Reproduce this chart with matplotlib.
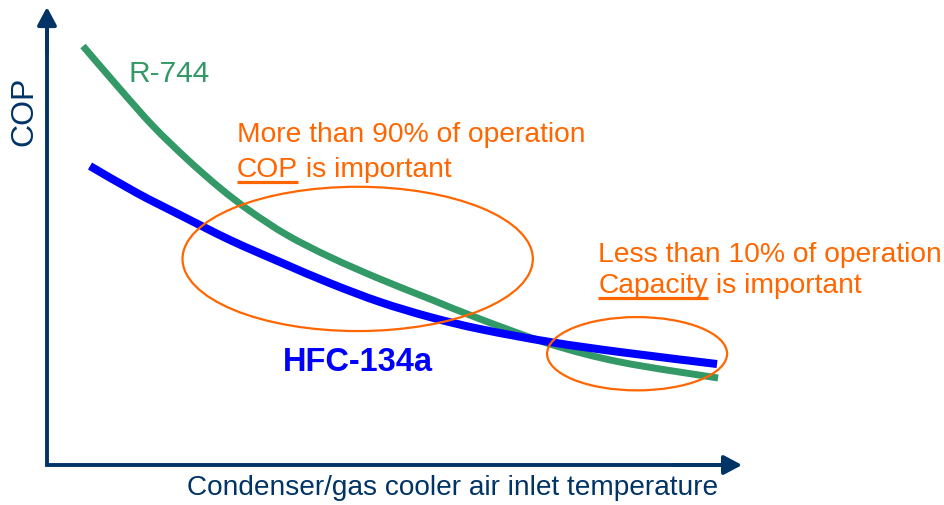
import matplotlib
matplotlib.use("Agg")
import numpy as np
import matplotlib.pyplot as plt
from matplotlib.patches import Ellipse, PathPatch
from matplotlib.path import Path

plt.rcParams['font.family'] = ['Liberation Sans', 'DejaVu Sans']

# ---- data (arbitrary units) ----
r744_x = [5.18, 10.50, 15.25, 20.14, 24.89, 29.21, 34.53, 40.72, 47.91, 55.11, 62.30, 72.37, 82.45, 96.55]
r744_y = [91.48, 82.10, 74.02, 66.81, 60.48, 55.46, 50.22, 45.41, 40.61, 36.24, 31.88, 26.42, 22.49, 19.00]

hfc_x = [6.19, 12.95, 19.14, 26.33, 33.53, 40.72, 47.91, 55.11, 62.30, 72.37, 82.45, 96.40]
hfc_y = [65.28, 59.39, 54.59, 49.13, 44.32, 39.70, 35.60, 32.31, 29.69, 26.86, 24.67, 22.05]

# annotation regions (centre x, centre y, width, height)
big_region = (44.7, 45.0, 50.4, 31.5)
small_region = (84.9, 24.3, 25.9, 16.0)

NAVY = '#003366'
GREEN = '#339966'
BLUE = '#0000FF'
ORANGE = '#FF6600'

fig = plt.figure(figsize=(9.45, 5.06), dpi=100)
ax = fig.add_axes([0, 0, 1, 1])
ax.set_xlim(-6.76, 129.2)
ax.set_ylim(-8.73, 101.75)
ax.axis('off')

# axes with arrows
AX_LW = 2.8
ax.plot([0, 0, 97], [97, 0, 0], color=NAVY, lw=AX_LW, solid_joinstyle='miter',
        solid_capstyle='butt')
arrow = dict(arrowstyle='-|>,head_length=0.6,head_width=0.32', lw=AX_LW, color=NAVY,
             shrinkA=0, shrinkB=0, mutation_scale=18)
ax.annotate('', xy=(0, 100), xytext=(0, 90), arrowprops=arrow)
ax.annotate('', xy=(100, 0), xytext=(90, 0), arrowprops=arrow)


def smooth_path(xs, ys):
    """Catmull-Rom curve through the points, as cubic Bezier segments."""
    p = np.column_stack([xs, ys]).astype(float)
    pts = np.vstack([p[0], p, p[-1]])
    verts = [p[0]]
    codes = [Path.MOVETO]
    for i in range(1, len(pts) - 2):
        p0, p1, p2, p3 = pts[i - 1], pts[i], pts[i + 1], pts[i + 2]
        c1 = p1 + (p2 - p0) / 6.0
        c2 = p2 - (p3 - p1) / 6.0
        verts += [c1, c2, p2]
        codes += [Path.CURVE4] * 3
    return Path(verts, codes)


ax.add_patch(PathPatch(smooth_path(r744_x, r744_y), fill=False, edgecolor=GREEN, lw=5.0,
                       capstyle='butt', joinstyle='round'))
ax.add_patch(PathPatch(smooth_path(hfc_x, hfc_y), fill=False, edgecolor=BLUE, lw=5.8,
                       capstyle='butt', joinstyle='round'))

# ellipses
for cx, cy, w, h in (big_region, small_region):
    ax.add_patch(Ellipse((cx, cy), w, h, fill=False, edgecolor=ORANGE, lw=1.6))

# labels
ax.text(11.7, 83.9, 'R-744', color=GREEN, fontsize=21.5, va='baseline', ha='left')
ax.text(34.0, 20.7, 'HFC-134a', color=BLUE, fontsize=23.5, fontweight='bold', va='baseline', ha='left')
ax.text(-3.3, 77.5, 'COP', color=NAVY, fontsize=23, rotation=90, va='center', ha='center')
ax.text(58.4, -4.8, 'Condenser/gas cooler air inlet temperature', color=NAVY, fontsize=20.2,
        va='center', ha='center')

FS = 20.3
ax.text(27.3, 70.8, 'More than 90% of operation', color=ORANGE, fontsize=FS, va='baseline')
ax.text(79.3, 44.5, 'Less than 10% of operation', color=ORANGE, fontsize=FS, va='baseline')

fig.canvas.draw()
renderer = fig.canvas.get_renderer()


def underlined(x, y, head, rest):
    t = ax.text(x, y, head, color=ORANGE, fontsize=FS, va='baseline')
    bb = t.get_window_extent(renderer)
    x0, y0 = ax.transData.transform((x, y))
    x1 = x0 + bb.width
    ax.text(x1, y0, rest, color=ORANGE, fontsize=FS, va='baseline', transform=None)
    inv = ax.transData.inverted()
    (ux0, uy), (ux1, _) = inv.transform([(x0, y0 - 5.5), (x1, y0 - 5.5)])
    ax.plot([ux0, ux1], [uy, uy], color=ORANGE, lw=2.3, solid_capstyle='butt')


underlined(27.3, 63.1, 'COP', ' is important')
underlined(79.3, 37.7, 'Capacity', ' is important')

fig.savefig('out.png', dpi=100)
